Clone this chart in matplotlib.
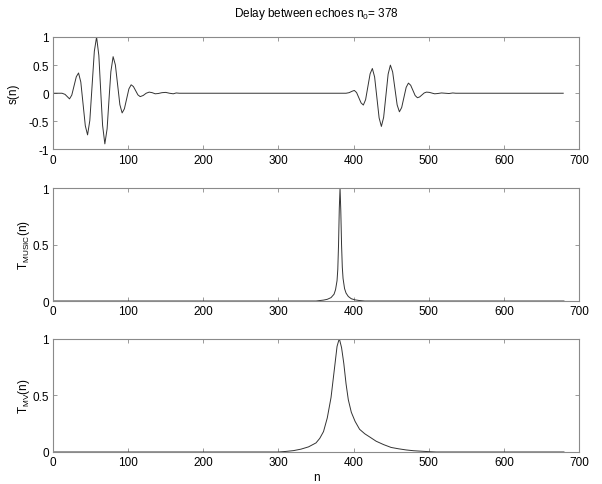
import matplotlib
matplotlib.use("Agg")
import matplotlib.pyplot as plt

plt.rcParams['font.family'] = ['Liberation Sans', 'DejaVu Sans']
plt.rcParams['mathtext.fontset'] = 'custom'
plt.rcParams['mathtext.rm'] = 'Liberation Sans'
plt.rcParams['mathtext.it'] = 'Liberation Sans'
plt.rcParams['font.size'] = 8.5

# s(n): two echoes
s_n = [0, 12, 16, 19, 22, 25, 28, 31, 34, 37, 40, 43, 46, 49, 52, 55, 58,
       61, 64, 66, 69, 72, 75, 77, 80, 83, 86, 89, 92, 95, 98, 101, 104,
       107, 110, 113, 116, 120, 124, 128, 132, 136, 140, 145, 150, 155, 160,
       164, 168,
       390, 394, 398, 401, 404, 407, 410, 413, 416, 419, 422, 425, 428, 431,
       434, 437, 440, 443, 446, 449, 452, 455, 458, 461, 464, 467, 470, 473,
       476, 479, 482, 485, 488, 491, 494, 497, 501, 505, 508, 512, 517, 522,
       527, 532, 536, 679]
s_val = [0, 0, -0.02, -0.06, -0.10, -0.033, 0.13, 0.293, 0.36, 0.199, -0.19,
         -0.579, -0.74, -0.485, 0.13, 0.745, 1.0,
         0.672, -0.085, -0.571, -0.90, -0.633, -0.015, 0.382, 0.65, 0.504,
         0.15, -0.204, -0.35, -0.277, -0.10, 0.077, 0.15,
         0.119, 0.045, -0.029, -0.06, -0.04, 0.0, 0.02, 0.01, -0.01, -0.005,
         0.01, 0.015, 0.0, -0.01, 0.005, 0.0,
         0, 0.01, 0.035, 0.05, 0.012, -0.08, -0.172, -0.21, -0.115, 0.115,
         0.345, 0.44, 0.289, -0.075, -0.439, -0.59, -0.43, -0.045, 0.34, 0.50,
         0.378, 0.085, -0.208, -0.33, -0.255, -0.075, 0.105, 0.18,
         0.142, 0.05, -0.042, -0.08, -0.065, -0.03, 0.005, 0.02, 0.015, 0.0,
         -0.01, -0.005, 0.005, 0.0, -0.005, 0.005, 0.0, 0]

# T_MUSIC(n)
music_n = [0, 350, 360, 365, 370, 374, 376, 378, 379, 380, 381, 382, 383,
           384, 385, 386, 388, 390, 393, 397, 402, 408, 415, 680]
music_val = [0, 0, 0.008, 0.015, 0.03, 0.06, 0.10, 0.18, 0.28, 0.50, 0.82,
             1.0, 0.80, 0.50, 0.30, 0.20, 0.11, 0.07, 0.04, 0.02, 0.01,
             0.004, 0, 0]

# T_MV(n)
mv_n = [0, 300, 310, 320, 330, 340, 350, 355, 360, 365, 370, 375, 378, 381,
        384, 387, 390, 393, 397, 402, 408, 415, 422, 430, 440, 450, 460, 470,
        480, 490, 500, 510, 680]
mv_val = [0, 0, 0.005, 0.012, 0.025, 0.045, 0.08, 0.12, 0.18, 0.30, 0.48,
          0.76, 0.93, 1.0, 0.92, 0.78, 0.60, 0.46, 0.35, 0.27, 0.20, 0.16,
          0.13, 0.095, 0.065, 0.04, 0.028, 0.018, 0.011, 0.007, 0.003, 0, 0]

x_ticks = [0, 100, 200, 300, 400, 500, 600, 700]
s_ticks = [-1, -0.5, 0, 0.5, 1]
t_ticks = [0, 0.5, 1]

frame = '#8a8a8a'
ink = '#333333'

fig = plt.figure(figsize=(6.02, 4.85), dpi=100)
left, width = 53 / 602, 526 / 602
ax1 = fig.add_axes([left, 0.6897, width, 0.232])
ax2 = fig.add_axes([left, 0.3773, width, 0.233])
ax3 = fig.add_axes([left, 0.066, width, 0.234])

ax1.plot(s_n, s_val, color=ink, lw=0.7)
ax2.plot(music_n, music_val, color=ink, lw=0.7)
ax3.plot(mv_n, mv_val, color=ink, lw=0.7)

ax1.set_ylim(-1, 1)
ax1.set_yticks(s_ticks)
ax1.set_yticklabels(['-1', '-0.5', '0', '0.5', '1'])
for ax in (ax2, ax3):
    ax.set_ylim(0, 1)
    ax.set_yticks(t_ticks)
    ax.set_yticklabels(['0', '0.5', '1'])

for ax in (ax1, ax2, ax3):
    ax.set_xlim(0, 700)
    ax.set_xticks(x_ticks)
    ax.tick_params(direction='in', top=True, right=True, length=3,
                   width=0.6, color=frame, pad=3, labelsize=8.5)
    for sp in ax.spines.values():
        sp.set_color(frame)
        sp.set_linewidth(0.8)

ax1.set_title(r'Delay between echoes n$_{\rm 0}$= 378', fontsize=8.5, pad=15)
ax1.set_ylabel('s(n)')
ax2.set_ylabel(r'T$_{\rm MUSIC}$(n)')
ax3.set_ylabel(r'T$_{\rm MV}$(n)')
ax3.set_xlabel('n', labelpad=2)

ax1.yaxis.set_label_coords(-0.064, 0.5)
ax2.yaxis.set_label_coords(-0.040, 0.5)
ax3.yaxis.set_label_coords(-0.040, 0.5)

fig.savefig('out.png', dpi=100)
